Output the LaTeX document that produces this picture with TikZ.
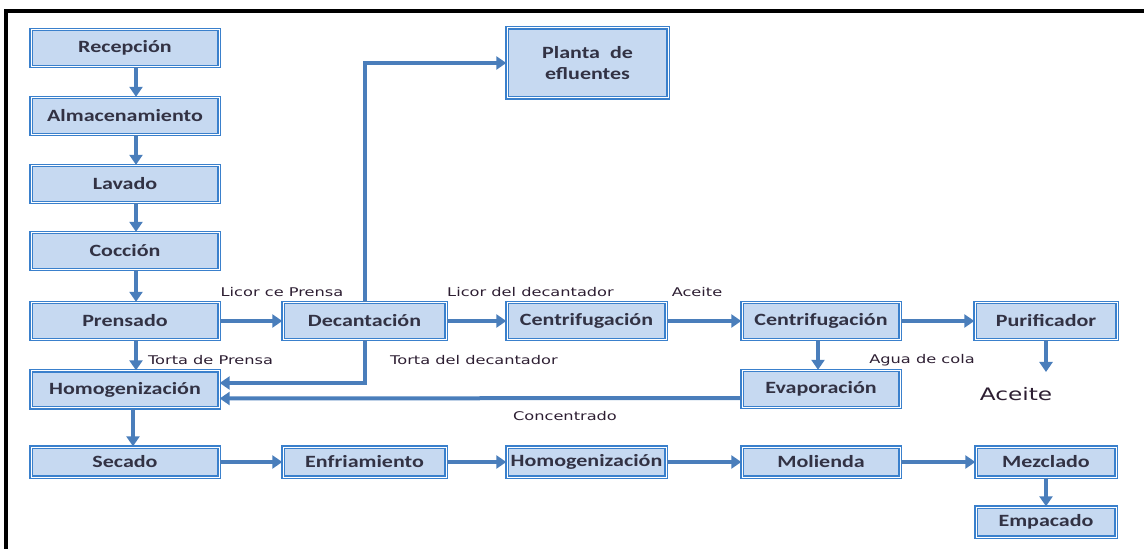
\documentclass[tikz,border=0pt]{standalone}
\usepackage{fontspec}
\usepackage{tikz}
\usetikzlibrary{arrows.meta}
\newfontfamily\boxfnt[FakeStretch=1.28]{Carlito}
\newfontfamily\labfnt[FakeStretch=1.35]{DejaVu Sans}
\definecolor{boxline}{RGB}{58,128,204}
\definecolor{boxfill}{RGB}{198,217,241}
\definecolor{boxtext}{RGB}{50,50,68}
\definecolor{flowline}{RGB}{74,126,187}
\definecolor{labtext}{RGB}{45,30,50}
\tikzset{
  stage/.style   ={draw=boxline, double=white, double distance=0.5pt, line width=0.7pt,
                   fill=boxfill, text=boxtext, inner sep=1pt, minimum height=18.5pt,
                   font=\boxfnt\bfseries\fontsize{8.6}{10.5}\selectfont},
  stagelow/.style={stage, minimum height=15pt},
  lab/.style     ={font=\labfnt\fontsize{6}{7}\selectfont, text=labtext, inner sep=0pt},
  labbig/.style  ={font=\labfnt\fontsize{8.6}{10}\selectfont, text=labtext, inner sep=0pt},
  flow/.style    ={draw=flowline, line width=2pt, -{Triangle[length=5pt,width=6.5pt]}},
}

\begin{document}
\begin{tikzpicture}[x=0.5pt,y=-0.5pt]
  \useasboundingbox (0,0) rectangle (1144,549);
  \draw[line width=1.7pt] (6,549) -- (6,11) -- (1144,11);

  \node[stage,minimum width=94pt]   (rec)  at (125,48)    {Recepción};
  \node[stage,minimum width=94pt]   (alm)  at (125,116)   {Almacenamiento};
  \node[stage,minimum width=94pt]   (lav)  at (125,184)   {Lavado};
  \node[stage,minimum width=94pt]   (coc)  at (125,251)   {Cocción};
  \node[stage,minimum width=94pt]   (pre)  at (125,321)   {Prensado};
  \node[stage,minimum width=94pt]   (hom)  at (125,389.5) {Homogenización};
  \node[stage,minimum width=81.5pt] (dec)  at (364.5,321) {Decantación};
  \node[stage,minimum width=79.5pt] (cenA) at (586.5,321) {Centrifugación};
  \node[stage,minimum width=79pt]   (cenB) at (821,321)   {Centrifugación};
  \node[stage,minimum width=71pt]   (pur)  at (1046,321)  {Purificador};
  \node[stage,minimum width=79pt]   (eva)  at (821,389)   {Evaporación};
  \node[stage,minimum width=80.5pt,minimum height=35pt,align=center] (pla) at (587.5,63) {Planta~~de\\efluentes};

  \node[stagelow,minimum width=94pt]   (sec)  at (125,462)   {Secado};
  \node[stagelow,minimum width=81.5pt] (enf)  at (364.5,462) {Enfriamiento};
  \node[stagelow,minimum width=79.5pt] (homB) at (586.5,462) {Homogenización};
  \node[stagelow,minimum width=79pt]   (mol)  at (821,462)   {Molienda};
  \node[stagelow,minimum width=70pt]   (mez)  at (1046,462)  {Mezclado};
  \node[stagelow,minimum width=70pt]   (emp)  at (1046,522)  {Empacado};

  \node[lab]    (lcp)  at (282,292)   {Licor ce Prensa};
  \node[lab]    (lcd)  at (530.5,292) {Licor del decantador};
  \node[lab]    (acA)  at (697,292.5) {Aceite};
  \node[lab]    (tdp)  at (210.5,360.5) {Torta de Prensa};
  \node[lab]    (tdd)  at (474,360.5) {Torta del decantador};
  \node[lab]    (adc)  at (922,360.5) {Agua de cola};
  \node[lab]    (con)  at (565,416.5) {Concentrado};
  \node[labbig] (acB)  at (1016,394)  {Aceite};
  \coordinate (purout) at (1046,372);

  \draw[flow] ([xshift=5.5pt]rec.south) -- ([xshift=5.5pt]alm.north);
  \draw[flow] ([xshift=5.5pt]alm.south) -- ([xshift=5.5pt]lav.north);
  \draw[flow] ([xshift=5.5pt]lav.south) -- ([xshift=5.5pt]coc.north);
  \draw[flow] ([xshift=5.5pt]coc.south) -- ([xshift=5.5pt]pre.north);
  \draw[flow] ([xshift=5.5pt]pre.south) -- ([xshift=5.5pt]hom.north);
  \draw[flow] ([xshift=4pt]hom.south) -- ([xshift=4pt]sec.north);
  \draw[flow] (pre) -- (dec);
  \draw[flow] (dec) -- (cenA);
  \draw[flow] (cenA) -- (cenB);
  \draw[flow] (cenB) -- (pur);
  \draw[flow] (pur.south) -- (purout);
  \draw[flow] ([xshift=-1.5pt]cenB.south) -- ([xshift=-1.5pt]eva.north);
  \draw[flow] (dec.north) |- (pla.west);
  \draw[flow] (dec.south) |- ([yshift=3.25pt]hom.east);
  \draw[flow] ([yshift=-4.5pt]eva.west) -- ([yshift=-4.5pt]hom.east);
  \draw[flow] (sec) -- (enf);
  \draw[flow] (enf) -- (homB);
  \draw[flow] (homB) -- (mol);
  \draw[flow] (mol) -- (mez);
  \draw[flow] (mez) -- (emp);
\end{tikzpicture}
\end{document}
